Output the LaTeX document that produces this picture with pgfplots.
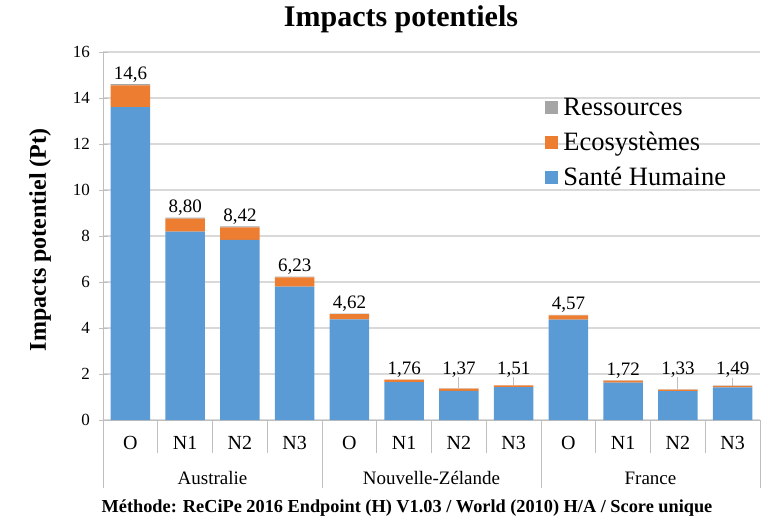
\documentclass[border=0pt]{standalone}
\usepackage{fontspec}
\setmainfont{Liberation Serif}
\usepackage{pgfplots}
\usepackage{pgfplotstable}
\pgfplotsset{compat=1.18}
\definecolor{cblue}{HTML}{5B9BD5}
\definecolor{corange}{HTML}{ED7D31}
\definecolor{cgray}{HTML}{A5A5A5}
\definecolor{gridc}{HTML}{D9D9D9}
\definecolor{linec}{HTML}{BFBFBF}
\pgfplotstableread{
x san eco res lab off
0 13.60 0.95 0.05 14,6 0
1 8.19 0.57 0.04 8,80 0
2 7.83 0.55 0.04 8,42 0
3 5.80 0.40 0.03 6,23 0
4 4.38 0.22 0.02 4,62 0
5 1.65 0.10 0.01 1,76 0
6 1.27 0.09 0.01 1,37 9
7 1.43 0.07 0.01 1,51 6
8 4.36 0.19 0.02 4,57 0
9 1.62 0.09 0.01 1,72 0
10 1.26 0.06 0.01 1,33 10
11 1.42 0.06 0.01 1,49 6
}\data
\newcommand{\fs}[1]{\fontsize{#1bp}{#1bp}\selectfont}
\begin{document}
\begin{tikzpicture}
\useasboundingbox (0,0) rectangle (769bp,520bp);
\node[font=\fs{30}\bfseries] at (401bp,501bp) {Impacts potentiels};
\node[font=\fs{24}\bfseries, rotate=90] at (40bp,280bp) {Impacts potentiel (Pt)};
\node[font=\fs{18.3}\bfseries] at (407bp,12bp) {Méthode: ReCiPe 2016 Endpoint (H) V1.03 / World (2010) H/A / Score unique};
\begin{axis}[
  at={(103bp,100bp)}, anchor=south west,
  width=657bp, height=368bp, scale only axis,
  ybar stacked, bar width=0.72,
  xmin=-0.5, xmax=11.5, ymin=0, ymax=16,
  ytick={0,2,...,16},
  xtick={0,...,11},
  xticklabels={O,N1,N2,N3,O,N1,N2,N3,O,N1,N2,N3},
  xtick style={draw=none},
  ytick style={draw=linec, line width=0.8bp},
  tick align=center, major tick length=9bp,
  axis lines*=left,
  axis line style={-, draw=linec, line width=1bp},
  ymajorgrids, grid style={draw=gridc, line width=1.2bp},
  /pgf/number format/assume math mode=true,
  yticklabel style={font=\fs{17}, xshift=-5bp},
  xticklabel style={font=\fs{20}, yshift=-8bp},
  clip=false,
  legend style={at={(0.673,0.88)}, anchor=north west, draw=none, fill=none,
    font=\fs{26.5}, row sep=11bp, inner sep=0pt,
    /tikz/every odd column/.append style={column sep=3bp}},
  legend cell align=left,
  reverse legend,
  legend image code/.code={\fill[#1] (0bp,-6.5bp) rectangle (13bp,6.5bp);},
]
\addplot[fill=cblue, draw=none] table[x=x, y=san] {\data};
\addlegendentry{Santé Humaine}
\addplot[fill=corange, draw=none] table[x=x, y=eco] {\data};
\addlegendentry{Ecosystèmes}
\addplot[fill=cgray, draw=none,
  point meta=explicit symbolic,
  visualization depends on={\thisrow{off} \as \myoff},
  nodes near coords,
  every node near coord/.append style={font=\fs{19}, text=black, anchor=south, inner sep=2bp, yshift={\myoff*1pt}},
  ] table[x=x, y=res, meta=lab] {\data};
\addlegendentry{Ressources}
% leader lines for shifted labels
\draw[linec, line width=0.8bp] (axis cs:6,1.37) -- ++(0pt,11bp);
\draw[linec, line width=0.8bp] (axis cs:7,1.51) -- ++(0pt,8bp);
\draw[linec, line width=0.8bp] (axis cs:10,1.33) -- ++(0pt,12bp);
\draw[linec, line width=0.8bp] (axis cs:11,1.49) -- ++(0pt,8bp);
% category separators
\pgfplotsinvokeforeach{0.5,1.5,2.5,4.5,5.5,6.5,8.5,9.5,10.5}{
  \draw[linec, line width=0.8bp] (axis cs:#1,0) -- ++(0pt,-33bp);
}
\pgfplotsinvokeforeach{-0.5,3.5,7.5,11.5}{
  \draw[linec, line width=0.8bp] (axis cs:#1,0) -- ++(0pt,-68bp);
}
\node[font=\fs{19}] at ([yshift=-58bp]axis cs:1.5,0) {Australie};
\node[font=\fs{19}] at ([yshift=-58bp]axis cs:5.5,0) {Nouvelle-Zélande};
\node[font=\fs{19}] at ([yshift=-58bp]axis cs:9.5,0) {France};
\end{axis}
\end{tikzpicture}
\end{document}
